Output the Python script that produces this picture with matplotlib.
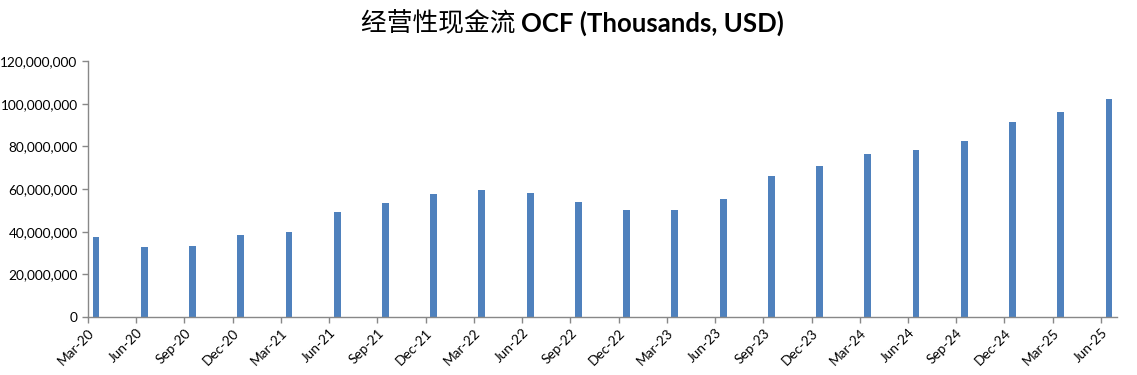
import matplotlib
matplotlib.use("Agg")
import matplotlib.pyplot as plt
from matplotlib.ticker import FuncFormatter, MultipleLocator

quarters = ["Mar-20", "Jun-20", "Sep-20", "Dec-20", "Mar-21", "Jun-21", "Sep-21", "Dec-21",
            "Mar-22", "Jun-22", "Sep-22", "Dec-22", "Mar-23", "Jun-23", "Sep-23", "Dec-23",
            "Mar-24", "Jun-24", "Sep-24", "Dec-24", "Mar-25", "Jun-25"]
ocf = [37.5e6, 32.8e6, 33.3e6, 38.4e6, 39.8e6, 49.2e6, 53.4e6, 57.8e6,
       59.5e6, 58.1e6, 53.9e6, 50.2e6, 50.2e6, 55.3e6, 66.1e6, 70.8e6,
       76.4e6, 78.3e6, 82.5e6, 91.4e6, 96.1e6, 102.2e6]

# monthly date axis: each quarter occupies 3 months, bar sits in first month slot
month_idx = [3 * i for i in range(len(quarters))]
bar_pos = [m + 0.5 for m in month_idx]

fig = plt.figure(figsize=(11.37, 3.75), dpi=100)
ax = fig.add_axes([88 / 1137, 1 - 317 / 375, (1117 - 88) / 1137, (317 - 61) / 375])

ax.bar(bar_pos, ocf, width=0.43, color="#4F81BD", zorder=2)

ax.set_xlim(0, month_idx[-1] + 1)
ax.set_ylim(0, 120e6)
ax.yaxis.set_major_locator(MultipleLocator(20e6))
ax.yaxis.set_major_formatter(FuncFormatter(lambda v, p: f"{int(v):,}"))
ax.set_xticks(month_idx)
ax.set_xticklabels(quarters, rotation=45, ha="right", rotation_mode="anchor")

for s in ["top", "right"]:
    ax.spines[s].set_visible(False)
for s in ["left", "bottom"]:
    ax.spines[s].set_color("#888888")
    ax.spines[s].set_linewidth(1.0)
ax.tick_params(axis="both", colors="#888888", labelcolor="black", length=4, width=1.0,
               labelsize=9.8, direction="out")
ax.tick_params(axis="x", pad=3)
for lbl in ax.get_xticklabels() + ax.get_yticklabels():
    lbl.set_family(["Lato", "DejaVu Sans"])

fig.text(0.4585, 0.937, "经营性现金流 ", ha="right", va="center", fontsize=18.5,
         family=["Noto Sans CJK SC", "DejaVu Sans"])
fig.text(0.4585, 0.937, "OCF (Thousands, USD)", ha="left", va="center", fontsize=18.5,
         fontweight="bold", family=["Lato", "DejaVu Sans"])

fig.savefig("out.png", dpi=100)
